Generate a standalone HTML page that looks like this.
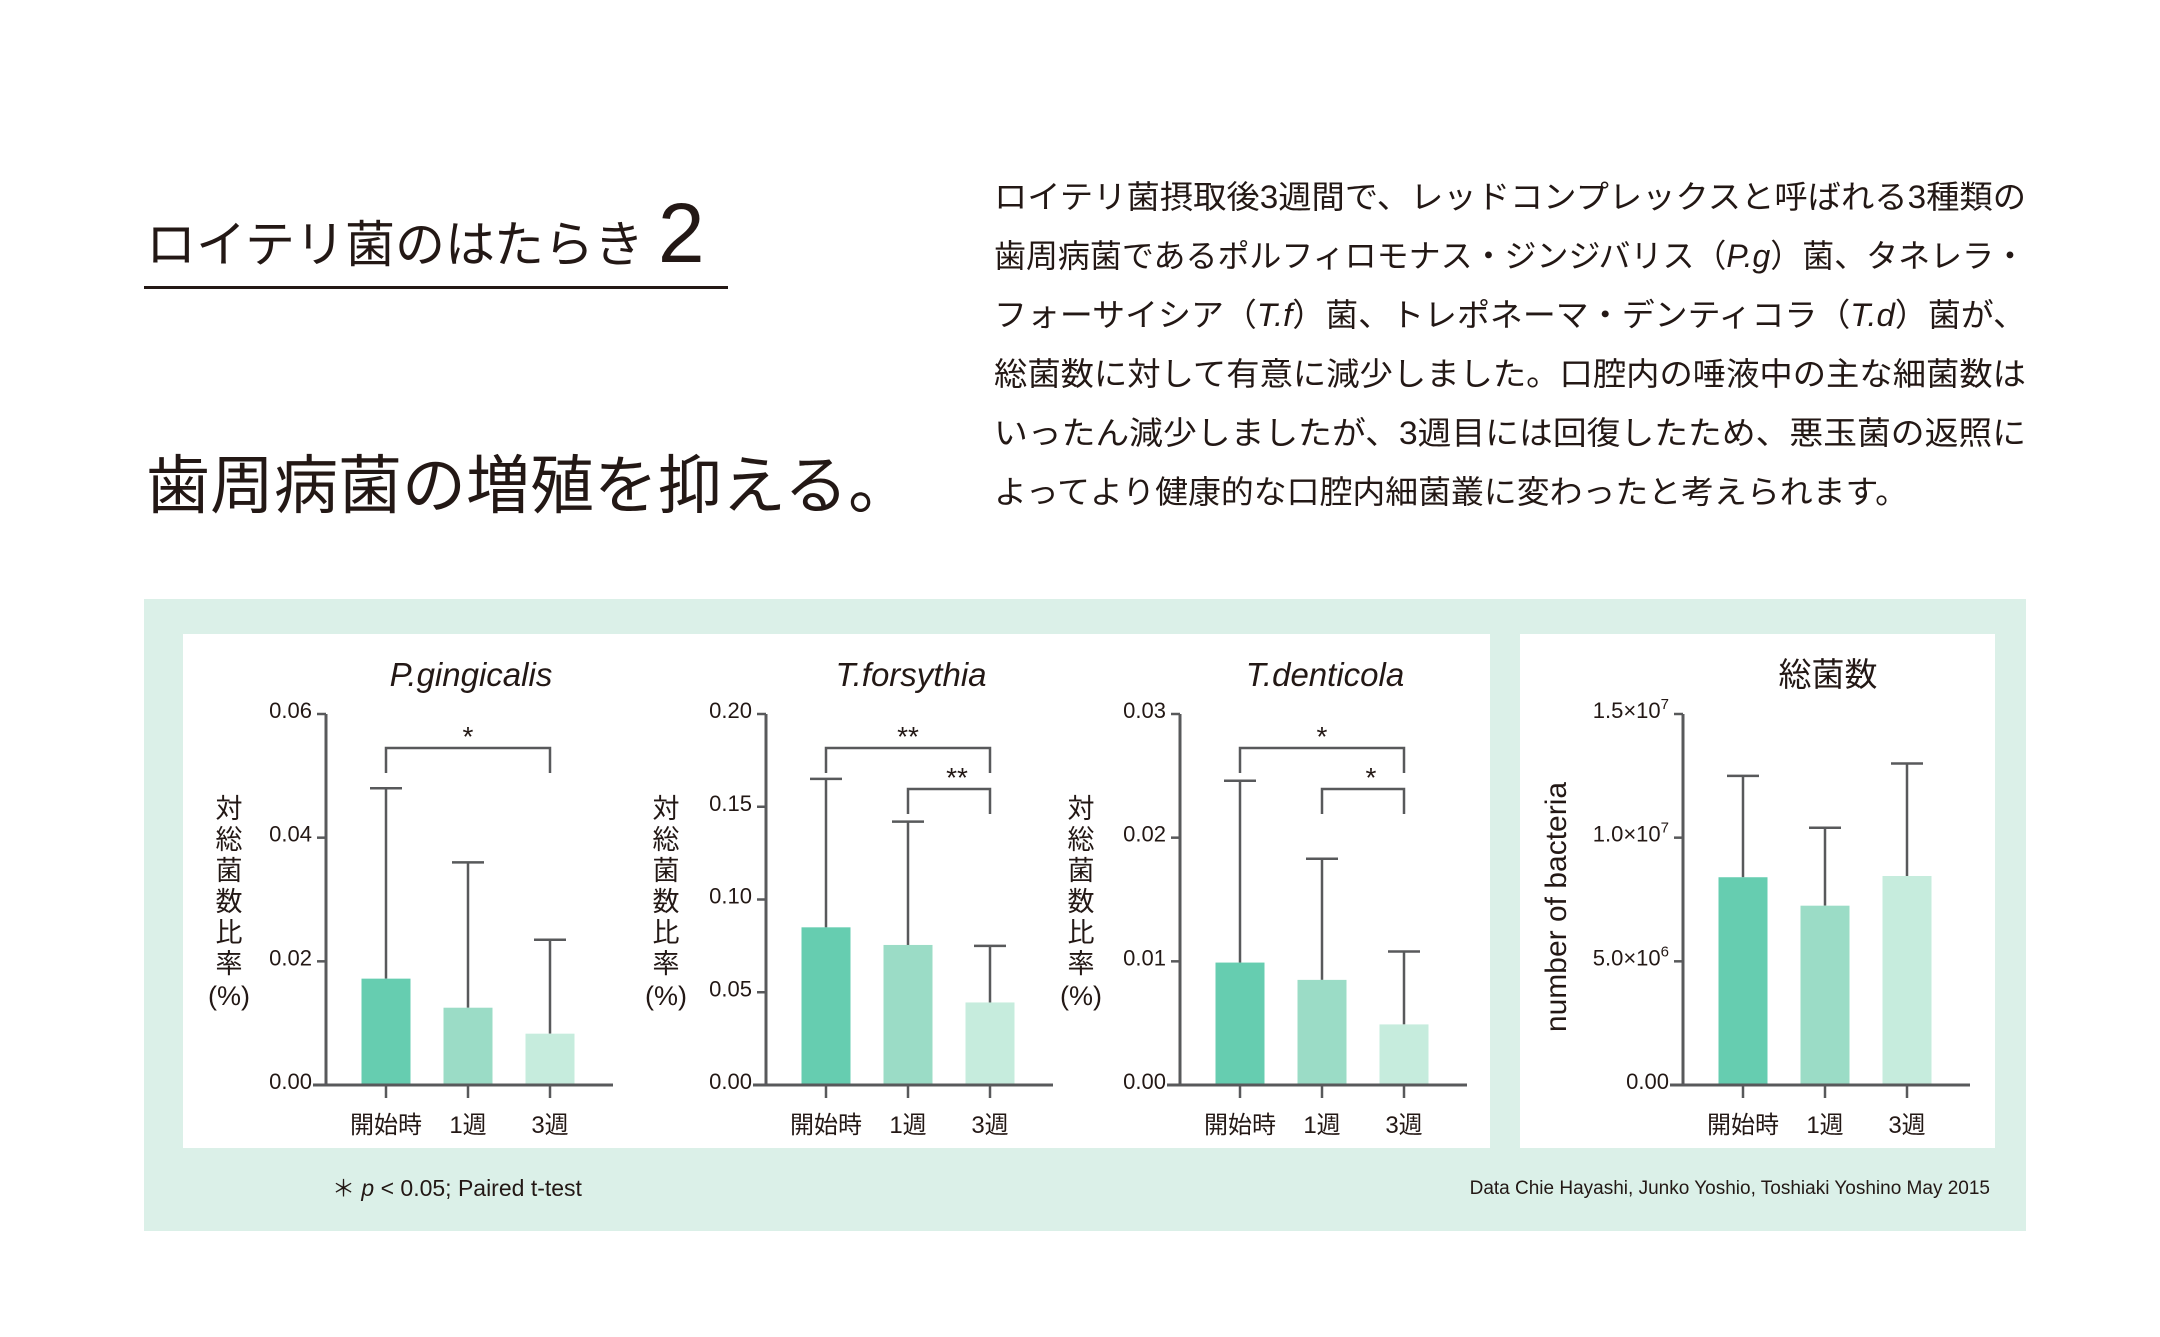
<!DOCTYPE html>
<html><head><meta charset="utf-8">
<style>
html,body{margin:0;padding:0;background:#fff;}
svg{display:block;}
text{font-family:"Liberation Sans","Noto Sans CJK JP",sans-serif;fill:#231815;}
</style></head>
<body>
<svg id="root" width="2160" height="1337" viewBox="0 0 2160 1337" xmlns="http://www.w3.org/2000/svg">
  <text x="146" y="262" font-size="50">ロイテリ菌のはたらき <tspan font-size="84">2</tspan></text>
  <rect x="144" y="286" width="584" height="3" fill="#231815"/>
  <text x="146" y="508" font-size="64">歯周病菌の増殖を抑える。</text>
  <g font-size="32">
    <text x="994" y="208" textLength="1032" lengthAdjust="spacingAndGlyphs">ロイテリ菌摂取後3週間で、レッドコンプレックスと呼ばれる3種類の</text>
    <text x="994" y="267" textLength="1032" lengthAdjust="spacingAndGlyphs">歯周病菌であるポルフィロモナス・ジンジバリス（<tspan font-style="italic">P.g</tspan>）菌、タネレラ・</text>
    <text x="994" y="326" textLength="1032" lengthAdjust="spacingAndGlyphs">フォーサイシア（<tspan font-style="italic">T.f</tspan>）菌、トレポネーマ・デンティコラ（<tspan font-style="italic">T.d</tspan>）菌が、</text>
    <text x="994" y="385" textLength="1032" lengthAdjust="spacingAndGlyphs">総菌数に対して有意に減少しました。口腔内の唾液中の主な細菌数は</text>
    <text x="994" y="444" textLength="1032" lengthAdjust="spacingAndGlyphs">いったん減少しましたが、3週目には回復したため、悪玉菌の返照に</text>
    <text x="994" y="503" textLength="914" lengthAdjust="spacingAndGlyphs">よってより健康的な口腔内細菌叢に変わったと考えられます。</text>
  </g>
  <rect x="144" y="599" width="1882" height="632" fill="#dbf0e8"/>
  <rect x="183" y="634" width="1307" height="514" fill="#fff"/>
  <rect x="1520" y="634" width="475" height="514" fill="#fff"/>
  <text x="332" y="1196" font-size="23">＊ <tspan font-style="italic">p</tspan> &lt; 0.05;  Paired t-test</text>
  <text x="1990" y="1194" font-size="19" text-anchor="end">Data Chie Hayashi, Junko Yoshio, Toshiaki Yoshino May 2015</text>
  <g id="charts"></g>
</svg>
<script>
const categories = ["開始時", "1週", "3週"];
const pgMeans = [0.0172, 0.0125, 0.0083];
const pgErrTops = [0.048, 0.036, 0.0235];
const pgTicks = ["0.00", "0.02", "0.04", "0.06"];
const tfMeans = [0.085, 0.0755, 0.0445];
const tfErrTops = [0.165, 0.142, 0.075];
const tfTicks = ["0.00", "0.05", "0.10", "0.15", "0.20"];
const tdMeans = [0.0099, 0.0085, 0.0049];
const tdErrTops = [0.0246, 0.0183, 0.0108];
const tdTicks = ["0.00", "0.01", "0.02", "0.03"];
const totMeans = [8.4e6, 7.25e6, 8.45e6];
const totErrTops = [1.25e7, 1.04e7, 1.3e7];
const totTicks = ["0.00", "5.0×10^6", "1.0×10^7", "1.5×10^7"];
const pgBrackets = [[0, 2, "*"]];
const tfBrackets = [[0, 2, "**"], [1, 2, "**"]];
const tdBrackets = [[0, 2, "*"], [1, 2, "*"]];
const totBrackets = [];

const NS = "http://www.w3.org/2000/svg";
const colors = ["#66cdb0", "#9bdcc6", "#c6ecdd"];
const AX = "#58595b";
const root = document.getElementById("charts");
function mk(tag, attrs, parent) {
  const e = document.createElementNS(NS, tag);
  for (const k in attrs) e.setAttribute(k, attrs[k]);
  parent.appendChild(e);
  return e;
}
function drawChart(cfg) {
  const g = mk("g", {}, root);
  
  
  const y0 = 1085, y1 = 714, ax = cfg.axisX;
  const maxV = cfg.max;
  const yS = v => y0 - (v / maxV) * (y0 - y1);
  const xS = i => ax + 60 + i * 82;
  // title
  const t = mk("text", {x: ax + 145, y: 686, "font-size": 33, "text-anchor": "middle", "font-style": cfg.italic ? "italic" : "normal"}, g);
  
  
  t.textContent = cfg.title;
  // bars and error bars
  cfg.means.forEach((m, i) => {
    const cx = xS(i);
    const eb = mk("path", {d: `M${cx} ${yS(m)}V${yS(cfg.errs[i])}M${cx-16} ${yS(cfg.errs[i])}H${cx+16}`, stroke: AX, "stroke-width": 2.5, fill: "none"}, g);
    
    
    const r = mk("rect", {x: cx - 24.5, y: yS(m), width: 49, height: y0 - yS(m), fill: colors[i]}, g);
    
    
    const tk = mk("line", {x1: cx, x2: cx, y1: y0, y2: y0 + 13, stroke: AX, "stroke-width": 2.5}, g);
    
    
    const lb = mk("text", {x: cx, y: 1133, "font-size": 24, "text-anchor": "middle"}, g);
    
    
    lb.textContent = categories[i];
  });
  // axes
  const axes = mk("path", {d: `M${ax} ${y1}V${y0}M${ax-13} ${y0}H${ax+287}`, stroke: AX, "stroke-width": 3, fill: "none"}, g);
  
  
  cfg.ticks.forEach((lab, i) => {
    const yy = y0 - i * (y0 - y1) / (cfg.ticks.length - 1);
    const tk = mk("line", {x1: ax - 9, x2: ax, y1: yy, y2: yy, stroke: AX, "stroke-width": 2.5}, g);
    
    
    const tx = mk("text", {x: ax - 14, y: yy + 4, "font-size": 22, "text-anchor": "end"}, g);
    
    
    const parts = lab.split("^");
    tx.textContent = parts[0];
    if (parts[1]) {
      const sp = mk("tspan", {dy: -9, "font-size": 15}, tx);
      sp.textContent = parts[1];
    }
  });
  // brackets
  cfg.brackets.forEach((b, k) => {
    const top = 748 + k * 41;
    const xa = xS(b[0]), xb = xS(b[1]);
    const p = mk("path", {d: `M${xa} ${top+25}V${top}H${xb}V${top+25}`, stroke: AX, "stroke-width": 2.5, fill: "none"}, g);
    
    
    const s = mk("text", {x: (xa + xb) / 2 + (k ? 8 : 0), y: top - 2, "font-size": 28, "text-anchor": "middle"}, g);
    
    
    s.textContent = b[2];
  });
  // y label
  if (cfg.vlabel) {
    const lx = cfg.labelX;
    const chars = ["対", "総", "菌", "数", "比", "率"];
    const yl = mk("text", {"font-size": 27, "text-anchor": "middle"}, g);
    
    
    chars.forEach((c, i) => {
      const sp = mk("tspan", {x: lx, y: 818 + i * 31}, yl);
      sp.textContent = c;
    });
    const sp = mk("tspan", {x: lx, y: 1005}, yl);
    sp.textContent = "(%)";
  } else {
    const yl = mk("text", {x: 0, y: 0, "font-size": 30, "text-anchor": "middle", transform: `translate(${cfg.labelX},907) rotate(-90)`}, g);
    
    
    yl.textContent = "number of bacteria";
  }
}
drawChart({name: "chart-p-gingivalis", title: "P.gingicalis", italic: true, axisX: 326, max: 0.06, means: pgMeans, errs: pgErrTops, ticks: pgTicks, brackets: pgBrackets, vlabel: true, labelX: 229});
drawChart({name: "chart-t-forsythia", title: "T.forsythia", italic: true, axisX: 766, max: 0.20, means: tfMeans, errs: tfErrTops, ticks: tfTicks, brackets: tfBrackets, vlabel: true, labelX: 666});
drawChart({name: "chart-t-denticola", title: "T.denticola", italic: true, axisX: 1180, max: 0.03, means: tdMeans, errs: tdErrTops, ticks: tdTicks, brackets: tdBrackets, vlabel: true, labelX: 1081});
drawChart({name: "chart-total-bacteria", title: "総菌数", italic: false, axisX: 1683, max: 1.5e7, means: totMeans, errs: totErrTops, ticks: totTicks, brackets: totBrackets, vlabel: false, labelX: 1566});
</script>
</body></html>
